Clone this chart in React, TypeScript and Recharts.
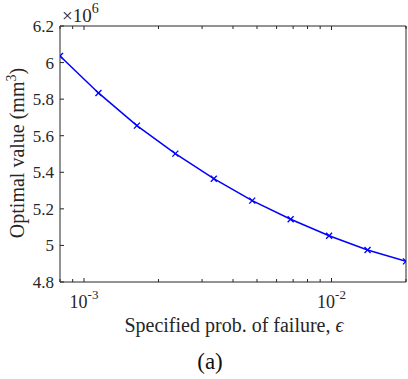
import React from 'react';
import { LineChart, Line, XAxis, YAxis } from 'recharts';

const epsilon = [8.0e-4, 1.144e-3, 1.636e-3, 2.339e-3, 3.345e-3, 4.783e-3, 6.84e-3, 9.781e-3, 1.3986e-2, 2.0e-2];
const optimal = [6.036, 5.834, 5.655, 5.502, 5.365, 5.245, 5.143, 5.053, 4.975, 4.913];
const xTicks = [8e-4, 9e-4, 1e-3, 2e-3, 3e-3, 4e-3, 5e-3, 6e-3, 7e-3, 8e-3, 9e-3, 1e-2, 2e-2];
const xMajor: Record<string, string> = { '0.001': '-3', '0.01': '-2' };
const yTicks = [4.8, 5.0, 5.2, 5.4, 5.6, 5.8, 6.0, 6.2];

const data = epsilon.map((e, i) => ({ eps: e, val: optimal[i] }));

const AX = '#262626';
const FONT = '"Liberation Serif", "Times New Roman", serif';

const isMajor = (v: number) => xMajor[String(v)] !== undefined;

function BottomTick(props: any) {
  const { x, y, payload } = props;
  const v = payload.value;
  const len = isMajor(v) ? 4 : 3;
  return (
    <g>
      <line x1={x} y1={y} x2={x} y2={y - len} stroke={AX} />
      {isMajor(v) && (
        <text x={x} y={y + 26} textAnchor="middle" fill={AX} fontFamily={FONT} fontSize={18}>
          10<tspan dy={-9} fontSize={13}>{xMajor[String(v)]}</tspan>
        </text>
      )}
    </g>
  );
}

function TopTick(props: any) {
  const { x, y, payload } = props;
  const len = isMajor(payload.value) ? 4 : 3;
  return <line x1={x} y1={y} x2={x} y2={y + len} stroke={AX} />;
}

function LeftTick(props: any) {
  const { x, y, payload } = props;
  const label = String(Number(payload.value.toFixed(1)));
  return (
    <g>
      <line x1={x} y1={y} x2={x + 4} y2={y} stroke={AX} />
      <text x={x - 6} y={y} dy="0.35em" textAnchor="end" fill={AX} fontFamily={FONT} fontSize={17}>
        {label}
      </text>
    </g>
  );
}

function RightTick(props: any) {
  const { x, y } = props;
  return <line x1={x} y1={y} x2={x - 4} y2={y} stroke={AX} />;
}

function Cross(props: any) {
  const { cx, cy } = props;
  if (cx == null || cy == null) return null;
  const s = 3;
  return (
    <g>
      <line x1={cx - s} y1={cy - s} x2={cx + s} y2={cy + s} stroke="#0000ff" strokeWidth={1.3} />
      <line x1={cx - s} y1={cy + s} x2={cx + s} y2={cy - s} stroke="#0000ff" strokeWidth={1.3} />
    </g>
  );
}

export default function App() {
  return (
    <div style={{ position: 'absolute', left: 0, top: 0, width: 408, height: 379, background: '#fff' }}>
      <LineChart width={408} height={379} data={data} margin={{ top: 25, right: 1, bottom: 57, left: 0 }}>
        <XAxis
          xAxisId="b"
          dataKey="eps"
          type="number"
          scale="log"
          domain={[8e-4, 2e-2]}
          ticks={xTicks}
          interval={0}
          allowDataOverflow
          height={40}
          tickSize={0}
          tickMargin={0}
          tickLine={false}
          stroke={AX}
          tick={<BottomTick />}
        />
        <XAxis
          xAxisId="t"
          orientation="top"
          dataKey="eps"
          type="number"
          scale="log"
          domain={[8e-4, 2e-2]}
          ticks={xTicks}
          interval={0}
          allowDataOverflow
          height={1}
          tickSize={0}
          tickMargin={0}
          tickLine={false}
          stroke={AX}
          tick={<TopTick />}
        />
        <YAxis
          yAxisId="l"
          type="number"
          domain={[4.8, 6.2]}
          ticks={yTicks}
          interval={0}
          width={60}
          tickSize={0}
          tickMargin={0}
          tickLine={false}
          stroke={AX}
          tick={<LeftTick />}
        />
        <YAxis
          yAxisId="r"
          orientation="right"
          type="number"
          domain={[4.8, 6.2]}
          ticks={yTicks}
          interval={0}
          width={1}
          tickSize={0}
          tickMargin={0}
          tickLine={false}
          stroke={AX}
          tick={<RightTick />}
        />
        <Line
          xAxisId="b"
          yAxisId="l"
          dataKey="val"
          type="linear"
          stroke="#0000ff"
          strokeWidth={1.5}
          dot={<Cross />}
          activeDot={false}
          isAnimationActive={false}
        />
      </LineChart>
      <svg
        width={408}
        height={379}
        style={{ position: 'absolute', left: 0, top: 0, pointerEvents: 'none' }}
        fontFamily={FONT}
      >
        <text x={62} y={22} fill={AX} fontSize={19}>
          ×10<tspan dy={-9} fontSize={14}>6</tspan>
        </text>
        <text
          transform="translate(24,153) rotate(-90)"
          textAnchor="middle"
          fill={AX}
          fontSize={20}
        >
          Optimal value (mm<tspan dy={-8} fontSize={14}>3</tspan>
          <tspan dy={8}>)</tspan>
        </text>
        <text x={234} y={332} textAnchor="middle" fill={AX} fontSize={20}>
          Specified prob. of failure, <tspan fontStyle="italic">ϵ</tspan>
        </text>
        <text x={210} y={369} textAnchor="middle" fill="#111" fontSize={23}>
          (a)
        </text>
      </svg>
    </div>
  );
}
